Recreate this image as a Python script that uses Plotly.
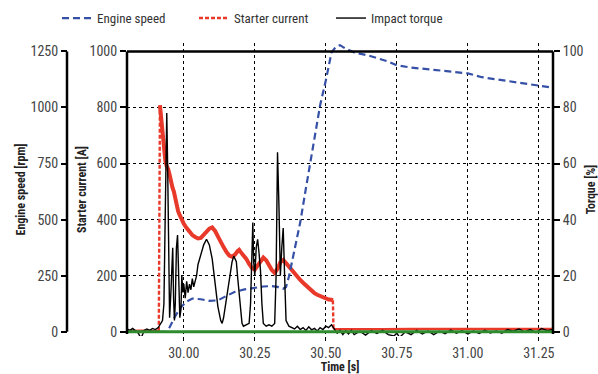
import plotly.graph_objects as go

# ---------------- data ----------------
speed_t = [29.80, 29.94, 29.95, 29.97, 29.99, 30.01, 30.03, 30.06, 30.09, 30.12, 30.15, 30.18, 30.21,
           30.25, 30.28, 30.31, 30.33, 30.35, 30.36, 30.37, 30.39, 30.41, 30.43, 30.46, 30.48, 30.50,
           30.52, 30.535, 30.55, 30.57, 30.60, 30.65, 30.70, 30.72, 30.75, 30.80, 30.88, 30.95, 31.00,
           31.05, 31.10, 31.20, 31.25, 31.30]
speed_rpm = [0, 0, 20, 70, 110, 135, 148, 145, 138, 140, 160, 178, 188,
             196, 202, 204, 200, 192, 200, 245, 360, 488, 640, 860, 1010, 1120,
             1245, 1270, 1278, 1262, 1245, 1232, 1215, 1205, 1188, 1178, 1168, 1160, 1152,
             1135, 1125, 1105, 1097, 1088]

cur_pre_t = [29.80, 29.83, 29.85, 29.88, 29.90, 29.912]
cur_pre_a = [3, 5, 4, 3, 5, 4]
cur_jump_t = [29.912, 29.916]
cur_jump_a = [4, 808]
cur_t = [29.916, 29.92, 29.925, 29.93, 29.935, 29.94, 29.945, 29.95, 29.955, 29.96, 29.965, 29.97,
         29.975, 29.98, 29.985, 29.99, 30.00, 30.01, 30.02, 30.03, 30.04, 30.05, 30.06, 30.07, 30.08,
         30.09, 30.10, 30.105, 30.11, 30.12, 30.13, 30.14, 30.15, 30.16, 30.17, 30.18, 30.19, 30.195,
         30.20, 30.21, 30.22, 30.23, 30.24, 30.25, 30.26, 30.27, 30.28, 30.29, 30.30, 30.31, 30.32,
         30.33, 30.34, 30.35, 30.36, 30.37, 30.38, 30.39, 30.40, 30.41, 30.42, 30.43, 30.44, 30.45,
         30.46, 30.47, 30.48, 30.49, 30.50, 30.51, 30.52, 30.525]
cur_a = [808, 760, 700, 650, 610, 590, 580, 560, 530, 515, 500, 470,
         450, 430, 418, 405, 385, 370, 355, 345, 338, 333, 335, 345, 358,
         368, 372, 368, 360, 340, 318, 302, 285, 272, 268, 275, 288, 292,
         285, 274, 260, 242, 228, 222, 238, 255, 265, 255, 238, 220, 210,
         225, 248, 256, 245, 232, 220, 208, 196, 185, 175, 165, 155, 145,
         138, 132, 127, 122, 118, 115, 114, 112]
cur_drop_t = [30.525, 30.527]
cur_drop_a = [112, 9]
cur_post_t = [30.527, 30.60, 30.70, 30.80, 30.90, 31.00, 31.10, 31.20, 31.30]
cur_post_a = [9, 10, 9, 10, 9, 10, 10, 9, 10]

torque_t = [29.80, 29.81, 29.82, 29.83, 29.84, 29.845, 29.85, 29.855, 29.86, 29.87, 29.88, 29.89,
            29.90, 29.91, 29.92, 29.925, 29.93, 29.935, 29.94, 29.943, 29.947, 29.95, 29.955, 29.958,
            29.961, 29.964, 29.967, 29.97, 29.974, 29.978, 29.982, 29.986, 29.99, 29.993, 29.997,
            30.00, 30.005, 30.01, 30.015, 30.02, 30.025, 30.03, 30.035, 30.04, 30.045, 30.05, 30.06,
            30.07, 30.08, 30.085, 30.09, 30.10, 30.11, 30.12, 30.13, 30.135, 30.14, 30.15, 30.16,
            30.17, 30.176, 30.185, 30.19, 30.20, 30.205, 30.21, 30.22, 30.23, 30.235, 30.24, 30.243,
            30.246, 30.25, 30.255, 30.26, 30.265, 30.27, 30.275, 30.28, 30.29, 30.30, 30.31, 30.32,
            30.325, 30.33, 30.335, 30.34, 30.345, 30.35, 30.355, 30.36, 30.37, 30.38, 30.39, 30.40,
            30.41, 30.42, 30.43, 30.44, 30.45, 30.46, 30.47, 30.48, 30.49, 30.50, 30.51, 30.52, 30.53,
            30.54, 30.55, 30.56, 30.57, 30.58, 30.59, 30.60, 30.62, 30.64, 30.66, 30.68, 30.70, 30.72,
            30.74, 30.75, 30.76, 30.78, 30.80, 30.82, 30.84, 30.86, 30.88, 30.90, 30.92, 30.94, 30.96,
            30.98, 31.00, 31.02, 31.04, 31.06, 31.08, 31.10, 31.12, 31.14, 31.16, 31.18, 31.20, 31.22,
            31.24, 31.26, 31.28, 31.30]
torque_pct = [1, 0.5, 1.2, 0.3, -0.5, -1.5, -2, -1, 0.5, 1, 0.5, 1.2,
              0.8, 1.5, 3, 4, 10, 40, 78, 60, 25, 5, 15, 28,
              30, 12, 4, 10, 30, 34.5, 20, 5, 8, 20, 14,
              17, 12, 18, 14, 17, 15, 19, 16, 18, 20, 24, 28,
              31, 33, 32, 31, 26, 18, 9, 4, 3, 5, 12, 19,
              25, 27, 25, 19, 8, 3, 2, 2.5, 3, 10, 36, 39,
              25, 20, 30, 33, 28, 22, 10, 3, 2, 2.5, 2, 3,
              20, 64, 45, 20, 30, 37, 20, 4, 2, 1.5, 1, 2,
              0.8, 1.5, 0.5, 1.8, 0.7, 1.2, 0.3, 1.5, 0.8, 2, 1.5, 2.5, 1,
              -0.5, 0.5, -1, 0.3, -0.8, 0.5, -1, 0.2, -1.2, 0.4, -0.6, 0.5, -1,
              -1.5, -0.5, -2, 0, -1, 0.5, -0.8, 0.3, -1, 0.2, -0.7, 0.6, -0.5,
              0.4, -0.8, 0.3, -0.6, 0.5, -0.4, 0.3, -0.5, 0.8, 0.2, 1, 0, 0.8,
              -0.3, 1.2, 0.4, 0.8]

zero_t = [29.80, 31.30]
zero_v = [0, 0]

x_ticks = [30.00, 30.25, 30.50, 30.75, 31.00, 31.25]
cur_ticks = [0, 200, 400, 600, 800, 1000]
speed_ticks = [0, 250, 500, 750, 1000, 1250]
torque_ticks = [0, 20, 40, 60, 80, 100]

# ---------------- style ----------------
BLUE = "#3550a6"
RED = "#e8392a"
GREEN = "#2e8b2e"
FONT = "Roboto Condensed, Liberation Sans Narrow, Arial Narrow, Roboto, sans-serif"
TICKC = "#444444"
TICKF = 14

fig = go.Figure()

fig.add_trace(go.Scatter(x=torque_t, y=torque_pct, yaxis="y3", mode="lines", name="Impact torque",
                         line=dict(color="black", width=1.4), legendrank=3))
fig.add_trace(go.Scatter(x=speed_t, y=speed_rpm, yaxis="y2", mode="lines", name="Engine speed",
                         line=dict(color=BLUE, width=2.2, dash="7px,4px"), legendrank=1))
fig.add_trace(go.Scatter(x=zero_t, y=zero_v, yaxis="y3", mode="lines", showlegend=False,
                         line=dict(color=GREEN, width=3)))
fig.add_trace(go.Scatter(x=cur_jump_t + [None] + cur_drop_t, y=cur_jump_a + [None] + cur_drop_a,
                         mode="lines", name="Starter current", legendgroup="cur", legendrank=2,
                         line=dict(color=RED, width=2.4, dash="4px,2px")))
fig.add_trace(go.Scatter(x=cur_pre_t, y=cur_pre_a, mode="lines", showlegend=False, legendgroup="cur",
                         line=dict(color=RED, width=2.5)))
fig.add_trace(go.Scatter(x=cur_t, y=cur_a, mode="lines", showlegend=False, legendgroup="cur",
                         line=dict(color=RED, width=4)))
fig.add_trace(go.Scatter(x=cur_post_t, y=cur_post_a, mode="lines", showlegend=False, legendgroup="cur",
                         line=dict(color=RED, width=2.5)))

L, R, T, B = 67, 45, 43, 38
W, H = 598, 374
pw = W - L - R
xd0 = (127 - L) / pw

lo, hi = -15, 1030  # starter current range (padding so peaks/dips are not clipped)

title_font = dict(size=12, color="#222")

fig.update_layout(
    width=W, height=H,
    margin=dict(l=L, r=R, t=T, b=B, autoexpand=False),
    paper_bgcolor="white", plot_bgcolor="white",
    font=dict(family=FONT, size=12, color=TICKC),
    showlegend=True,
    legend=dict(orientation="h", x=(57 - L) / pw, xanchor="left", y=1.085, yanchor="middle",
                font=dict(size=13, color="#333"), bgcolor="rgba(0,0,0,0)",
                tracegroupgap=0, itemwidth=30, entrywidth=92, entrywidthmode="pixels"),
    xaxis=dict(domain=[xd0, 1], range=[29.8, 31.3], tickvals=x_ticks,
               ticktext=[f"{v:.2f}" for v in x_ticks],
               showgrid=True, gridcolor="black", griddash="dot", gridwidth=1.2,
               zeroline=False, showline=False, ticks="outside", ticklen=4, tickcolor="black",
               tickfont=dict(size=TICKF, color=TICKC),
               title=dict(text="<b>Time [s]</b>", font=title_font, standoff=4)),
    yaxis=dict(range=[lo, hi], tickvals=cur_ticks, showgrid=True, gridcolor="black", griddash="dot",
               gridwidth=1.2, zeroline=False, showline=False, ticks="outside", ticklen=6,
               tickwidth=2, tickcolor="black", tickfont=dict(size=TICKF, color=TICKC),
               title=dict(text="<b>Starter current [A]</b>", font=title_font, standoff=0)),
    yaxis2=dict(range=[lo * 1.25, hi * 1.25], tickvals=speed_ticks, overlaying="y", anchor="free",
                position=0, side="left", showgrid=False, zeroline=False, showline=False,
                ticks="outside", ticklen=6, tickwidth=2, tickcolor="black",
                tickfont=dict(size=TICKF, color=TICKC),
                title=dict(text="<b>Engine speed [rpm]</b>", font=title_font, standoff=1)),
    yaxis3=dict(range=[lo / 10, hi / 10], tickvals=torque_ticks, overlaying="y", anchor="x",
                side="right", showgrid=False, zeroline=False, showline=False,
                ticks="outside", ticklen=6, tickwidth=2, tickcolor="black",
                tickfont=dict(size=TICKF, color=TICKC),
                title=dict(text="<b>Torque [%]</b>", font=title_font, standoff=4)),
)

# axis frame lines (end at the 0 and max ticks)
fig.add_shape(type="line", xref="paper", yref="y", x0=xd0, x1=xd0, y0=-8, y1=1000,
              line=dict(color="black", width=2.5))
fig.add_shape(type="line", xref="paper", yref="y", x0=1, x1=1, y0=-8, y1=1000,
              line=dict(color="black", width=2.5))
fig.add_shape(type="line", xref="paper", yref="y", x0=xd0, x1=1, y0=1000, y1=1000,
              line=dict(color="black", width=2.5))
fig.add_shape(type="line", xref="paper", yref="y2", x0=0, x1=0, y0=0, y1=1250,
              line=dict(color="black", width=2.5))

fig.write_html("out.html")
